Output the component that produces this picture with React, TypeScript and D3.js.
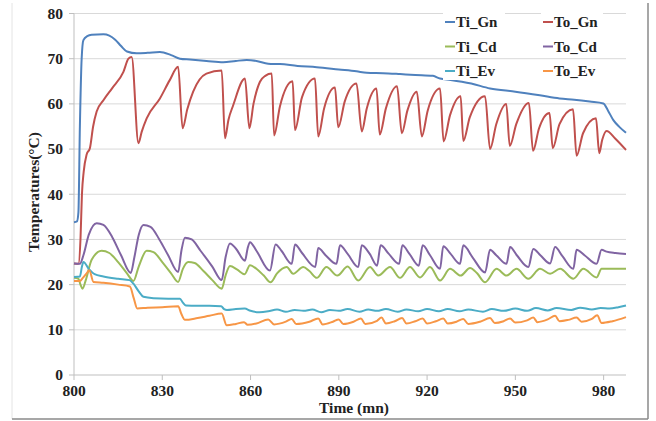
import React from "react";
import * as d3 from "d3";

const xTicks = [800, 830, 860, 890, 920, 950, 980];
const yTicks = [0, 10, 20, 30, 40, 50, 60, 70, 80];

const tiGn: [number, number][] = [[800,33.8],[801,34],[801.5,36],[802,55],[802.6,70],[803.2,74.1],[804.5,75],[806,75.3],[810,75.4],[812,75.1],[814,74.2],[816,72.8],[818,71.6],[821.3,71.2],[825,71.3],[829.2,71.5],[833,70.8],[836,70.0],[839.4,69.8],[845,69.5],[850.7,69.2],[855,69.5],[858.7,69.7],[862,69.5],[866,68.9],[870,68.8],[876,68.4],[882.5,68.1],[890,67.6],[896,67.2],[899.5,66.9],[905,66.8],[910.8,66.6],[916,66.4],[922,66.2],[924.4,65.6],[928,65.3],[935,64.5],[941.4,63.4],[950,62.7],[958.3,61.9],[965,61.2],[970,60.9],[975.3,60.5],[979.9,60.1],[981.5,58.5],[983.3,56.4],[985.5,54.8],[987.6,53.6]];

const toGn: [number, number][] = [[800,24.7],[801.5,24.6],[802.2,30],[802.7,40],[803.3,45],[804.3,48.8],[805.4,50.2],[806.5,55],[807.7,58.3],[810,60.8],[813,63.5],[816.8,67.1],[818.5,70],[819.6,70.4],[821.9,51.3],[823,53.8],[824.7,56.8],[829.2,61.2],[832.5,65.2],[835.4,68.2],[836.9,54.6],[838.5,58.8],[840.5,62.7],[845,66.7],[850.2,67.4],[851.3,52.4],[852.5,56.5],[854.1,59.7],[858.1,65.6],[859.6,54.6],[861,60],[863.2,64.9],[865,66.2],[867.2,66.7],[868,53],[870,59.5],[874.3,65.0],[875.1,54.2],[877.5,61.5],[881.9,65.6],[883,52.8],[885,59],[888.7,63.6],[889.8,54.8],[892,60.5],[896,64.5],[897.8,53.9],[899.5,59],[902.8,63.4],[903.9,53.2],[906,59],[909.8,63.9],[911.4,53.5],[913.3,58.5],[916.5,62.7],[918.2,52.8],[920.2,58.5],[924.4,63.4],[925.6,51.7],[927.8,57.5],[931.4,61.7],[932.3,51.8],[934.5,57],[939.7,61.7],[941.4,50],[943.5,55.5],[946.9,60],[948.1,50.7],[950.3,55.5],[954.6,60.2],[956,49.6],[958,54.5],[961.6,58],[962.7,50.2],[965,55.5],[969.6,58.8],[970.8,48.5],[973,53.5],[977.4,56.8],[978.5,49.1],[979.5,52],[981,54],[984,52.3],[987.6,49.8]];

const tiCd: [number, number][] = [[800,21.5],[801.5,21.3],[802.2,20],[802.9,19.1],[804,21],[806,25.5],[809.4,27.5],[812,27],[815,25],[818,22.5],[820.2,20.8],[822,24],[824.7,27.5],[827,27.2],[830,25],[833,22.5],[835.4,20.6],[837,23.5],[838.8,25.0],[841,24.8],[844,23],[847,21],[850.2,19.1],[851.5,22],[853,24.1],[855.5,23.3],[858,22.3],[859.8,24.3],[862,23.5],[864.5,22],[866.8,20.5],[869,22.5],[872.3,23.9],[874.5,22.4],[877.9,23.9],[880,23],[882.5,21.5],[885.8,23.9],[889.5,22],[893,24],[896.6,20.9],[900.6,23.9],[903.4,22],[907.4,23.9],[910.8,21.5],[914.2,23.9],[917.6,21.6],[921,23.9],[924.4,20.9],[927.8,23.5],[931.4,22],[934.6,23.7],[937,22.5],[939.7,20.5],[943.6,23.5],[947,22],[950.4,23.5],[954.4,21.3],[958.4,23.5],[961.8,22.4],[965.2,23.5],[969.7,21.3],[973.1,23.5],[977.6,21.6],[979.3,23.5],[983,23.5],[987.6,23.5]];

const toCd: [number, number][] = [[800,24.7],[802,24.6],[803.2,26.5],[805,31],[807.7,33.6],[810,33.2],[813,30.5],[816,26.5],[819.3,22.6],[820.5,26],[822,31],[823.6,33.2],[826,32.8],[829,30],[832,26.5],[835.4,22.8],[836.5,27.5],[837.7,30.4],[840,30],[843,27.5],[847,24],[850.2,21.0],[851.5,26],[853,29.1],[855,28],[858.1,25.3],[859,28],[859.8,29.4],[862,27.5],[866.6,23.1],[868.5,28.9],[870.5,27.5],[874,24.6],[875.1,28.9],[877.5,27],[882,23.9],[883,28.1],[885.5,26.5],[889.2,24.6],[890.4,28.7],[893,26.8],[896.6,23.9],[897.8,28.7],[900.5,26.8],[903,24.2],[904.2,28.7],[907,26.8],[910.5,24.6],[911.6,28.7],[914,26.8],[917.2,24.2],[918.5,28.7],[921,26.5],[924.4,23.5],[925.5,28.5],[928,26.8],[931.2,24.6],[932.3,28.7],[935.5,26],[939.7,22.7],[941.4,27.7],[943.5,26.5],[947,24.6],[948.2,28.3],[950.5,26.5],[954.4,23.9],[956.1,27.9],[958.5,26.5],[961.8,24.7],[963.5,28.3],[966,26.3],[969.7,23.5],[970.8,27.7],[973.5,26.5],[977.6,24.6],[979.3,27.7],[981,27.3],[984,27],[987.6,26.8]];

const tiEv: [number, number][] = [[800,21.7],[802,21.8],[802.7,24],[803.2,25.0],[805,23.5],[807,22.3],[810,21.8],[815,21.3],[818.9,21.0],[820.2,20.2],[822,18.5],[823.6,17.3],[827,17],[832,16.9],[836,16.9],[837,16],[838,15.4],[842,15.3],[846,15.3],[850,15.2],[851,14.6],[852,14.4],[855,14.6],[858,14.7],[860,14.2],[863,13.9],[866,14.1],[869,14.5],[872,14],[875,14.4],[878,14.2],[881,14.5],[884,13.9],[887,14.4],[890,14.2],[893,14.6],[897,14],[900,14.5],[903,14.2],[906,14.6],[910,14],[913,14.5],[917,14.1],[920,14.6],[924,14.1],[927,14.6],[931,14.1],[934,14.5],[939,14],[942,14.6],[946,14.2],[950,14.7],[954,14.2],[957,14.8],[961,14.3],[964,14.8],[969,14.4],[972,14.9],[976,14.5],[979,14.8],[982,14.7],[985,15.0],[987.6,15.4]];

const toEv: [number, number][] = [[800,20.8],[802,20.8],[803,21.5],[804.3,22.5],[805.2,23.2],[806.6,20.6],[810,20.4],[815,20.0],[819,19.6],[820.3,17],[821.5,14.7],[825,14.9],[830,15.0],[835.4,15.2],[836.5,13.5],[837.7,12.2],[842,12.6],[846,13.1],[850.2,13.6],[851.9,11.0],[855,11.3],[857.8,11.7],[859,11.1],[862,11.4],[866,12.3],[868,11.2],[872,11.8],[874,12.4],[875.5,11.3],[880,11.8],[883,12.5],[884.5,11.2],[888,11.8],[890,12.3],[891.5,11.3],[895,11.8],[897.5,12.5],[899,11.3],[903,12],[904.5,12.7],[906,11.4],[909,11.9],[911.5,12.6],[913,11.4],[916,11.9],[918.5,12.5],[920,11.4],[923,11.9],[925.5,12.5],[927,11.4],[930,11.8],[932.3,12.4],[934,11.3],[938,11.8],[941.4,12.6],[943,11.5],[946,11.9],[948.2,12.5],[950,11.6],[954,12.1],[956.1,12.7],[957.5,11.7],[961,12.3],[963.5,13.1],[965,11.9],[968,12.2],[970.8,12.7],[972.5,11.8],[976,12.4],[977.8,13.2],[979.3,11.5],[983,11.9],[987.6,12.8]];

const seriesNames = ["Ti_Gn", "To_Gn", "Ti_Cd", "To_Cd", "Ti_Ev", "To_Ev"];
const seriesData = [tiGn, toGn, tiCd, toCd, tiEv, toEv];
const seriesColors = ["#4F81BD", "#C0504D", "#9BBB59", "#8064A2", "#4BACC6", "#F79646"];

const W = 656, H = 421;
const left = 74, right = 626, top = 13.5, bottom = 375;
const font = "'Liberation Serif', 'Times New Roman', serif";

export default function App() {
  const x = d3.scaleLinear().domain([800, 987.6]).range([left, right]);
  const y = d3.scaleLinear().domain([0, 80]).range([bottom, top]);
  const line = d3.line<[number, number]>()
    .x(d => x(d[0]))
    .y(d => y(d[1]))
    .curve(d3.curveMonotoneX);

  return (
    <svg width={W} height={H} style={{ position: "fixed", left: 0, top: 0, background: "#fff" }}>
      <rect x={0} y={0} width={W} height={H} fill="#fff" />
      <line x1={12} y1={3} x2={12} y2={419} stroke="#e4e4e4" strokeWidth={1} />
      <line x1={12} y1={419} x2={648} y2={419} stroke="#8a8a8a" strokeWidth={1.5} />
      <line x1={648} y1={3} x2={648} y2={419} stroke="#8a8a8a" strokeWidth={1.5} />
      {yTicks.filter(t => t > 0).map(t => (
        <line key={t} x1={left} x2={right} y1={y(t)} y2={y(t)} stroke="#D9D9D9" strokeWidth={1} />
      ))}
      <line x1={left} x2={left} y1={top} y2={bottom} stroke="#BFBFBF" strokeWidth={1} />
      <line x1={left} x2={right} y1={bottom} y2={bottom} stroke="#BFBFBF" strokeWidth={1} />
      {yTicks.map(t => (
        <line key={"yt" + t} x1={left - 5} x2={left} y1={y(t)} y2={y(t)} stroke="#BFBFBF" />
      ))}
      {xTicks.map(t => (
        <line key={"xt" + t} x1={x(t)} x2={x(t)} y1={bottom} y2={bottom + 5} stroke="#BFBFBF" />
      ))}
      {yTicks.map(t => (
        <text key={"yl" + t} x={63} y={y(t)} dy="0.35em" textAnchor="end"
          fontFamily={font} fontWeight="bold" fontSize={15.5} fill="#222">{t}</text>
      ))}
      {xTicks.map(t => (
        <text key={"xl" + t} x={x(t)} y={396} textAnchor="middle"
          fontFamily={font} fontWeight="bold" fontSize={15.5} fill="#222">{t}</text>
      ))}
      <text x={354} y={413} textAnchor="middle" fontFamily={font} fontWeight="bold" fontSize={15.5} fill="#222">Time (mn)</text>
      <text transform="translate(39,192) rotate(-90)" textAnchor="middle" fontFamily={font}
        fontWeight="bold" fontSize={15.5} fill="#222">Temperatures(°C)</text>
      {seriesData.map((d, i) => (
        <path key={seriesNames[i]} d={line(d) || ""} fill="none" stroke={seriesColors[i]}
          strokeWidth={2} strokeLinejoin="round" />
      ))}
      {seriesNames.map((n, i) => {
        const col = i % 2, row = Math.floor(i / 2);
        const lx = col === 0 ? 445 : 543;
        const ly = 22 + row * 24.5;
        return (
          <g key={"lg" + n}>
            <rect x={lx - 2} y={ly - 9} width={62} height={18} fill="#fff" />
            <line x1={lx} x2={lx + 10} y1={ly} y2={ly} stroke={seriesColors[i]} strokeWidth={2} />
            <text x={lx + 11} y={ly + 5} fontFamily={font} fontWeight="bold" fontSize={15} fill="#222">{n}</text>
          </g>
        );
      })}
    </svg>
  );
}
